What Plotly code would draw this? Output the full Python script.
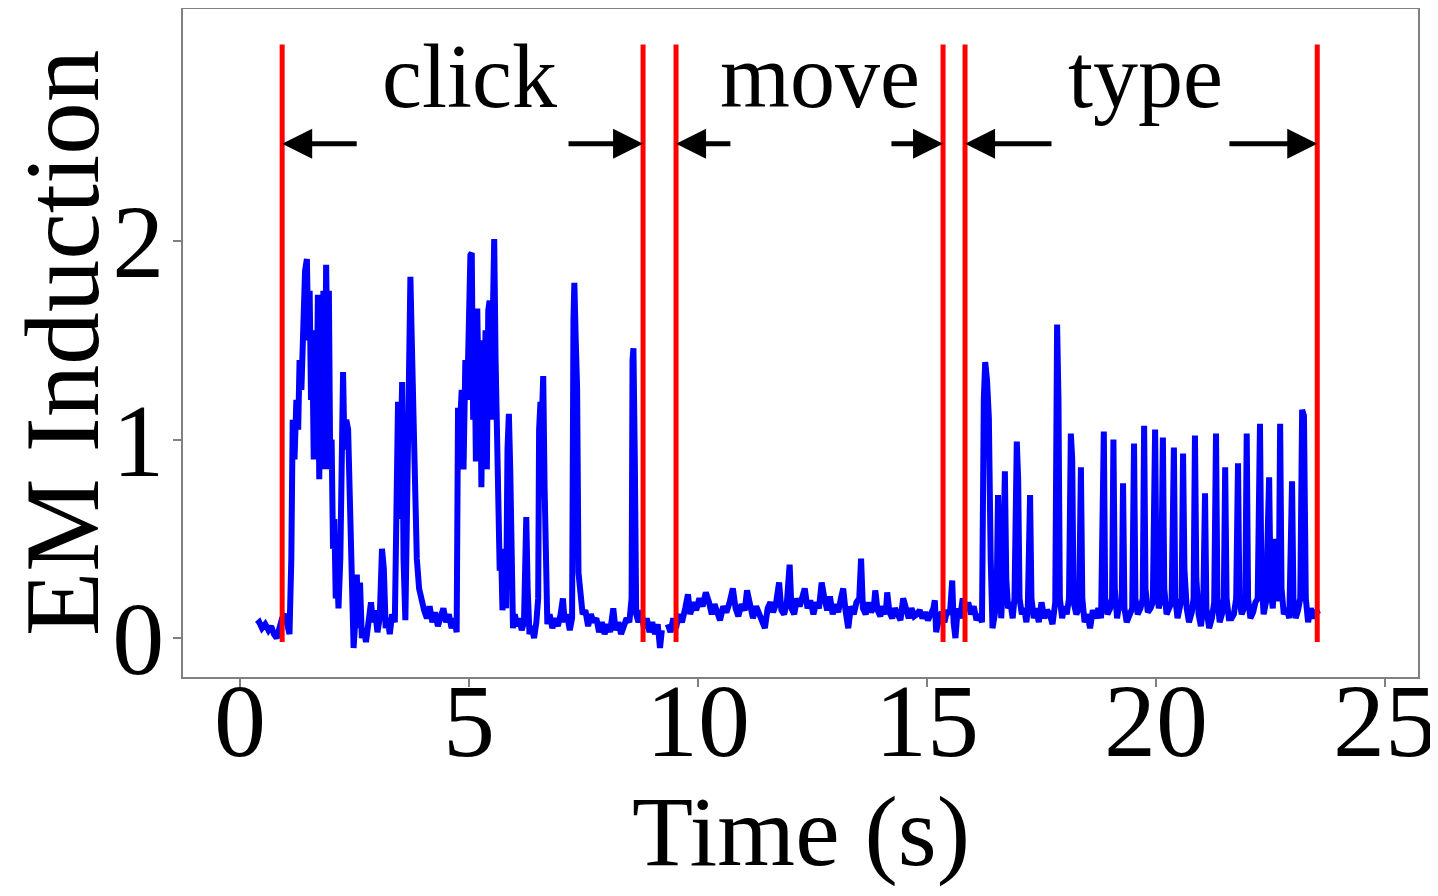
import plotly.graph_objects as go

# ---- data ----
click_t = [0.37, 0.42, 0.48, 0.55, 0.62, 0.68, 0.74, 0.80, 0.86, 0.92, 0.98, 1.03, 1.08, 1.12, 1.15, 1.19, 1.23, 1.27,
           1.30, 1.34, 1.38, 1.42, 1.46, 1.49, 1.52, 1.55, 1.58, 1.61, 1.64, 1.67, 1.70, 1.73, 1.76, 1.79, 1.82, 1.85,
           1.88, 1.91, 1.94, 1.97, 2.00, 2.03, 2.06, 2.09, 2.12, 2.15, 2.19, 2.22, 2.25, 2.28, 2.32, 2.36, 2.40, 2.44,
           2.48, 2.52, 2.55, 2.58, 2.62, 2.66, 2.70, 2.75, 2.80, 2.86, 2.90, 2.95, 3.00, 3.05, 3.10, 3.14, 3.18, 3.22,
           3.27, 3.32, 3.38, 3.42, 3.45, 3.48, 3.51, 3.54, 3.57, 3.61, 3.65, 3.69, 3.72, 3.75, 3.78, 3.82, 3.86, 3.91,
           3.96, 4.02, 4.08, 4.14, 4.20, 4.26, 4.32, 4.38, 4.44, 4.50, 4.56, 4.62, 4.68, 4.73, 4.76, 4.80, 4.84, 4.88,
           4.92, 4.96, 5.00, 5.03, 5.06, 5.09, 5.12, 5.15, 5.18, 5.21, 5.24, 5.27, 5.30, 5.33, 5.36, 5.39, 5.42, 5.45,
           5.48, 5.52, 5.55, 5.58, 5.61, 5.64, 5.67, 5.70, 5.73, 5.77, 5.81, 5.84, 5.87, 5.90, 5.93, 5.96, 6.00, 6.05,
           6.10, 6.15, 6.20, 6.23, 6.25, 6.28, 6.32, 6.37, 6.42, 6.47, 6.51, 6.53, 6.56, 6.59, 6.62, 6.65, 6.68, 6.71,
           6.76, 6.82, 6.88, 6.94, 7.00, 7.05, 7.09, 7.14, 7.20, 7.25, 7.28, 7.30, 7.33, 7.36, 7.39, 7.43, 7.48, 7.54,
           7.60, 7.66, 7.72, 7.78, 7.84, 7.90, 7.96, 8.02, 8.08, 8.15, 8.20, 8.26, 8.32, 8.38, 8.44, 8.50, 8.55, 8.57,
           8.59, 8.62, 8.65, 8.70, 8.76, 8.82, 8.88, 8.94, 9.00, 9.06, 9.12, 9.17, 9.21]
click_v = [0.07, 0.08, 0.05, 0.07, 0.04, 0.06, 0.02, 0.00, 0.05, 0.10, 0.12, 0.06, 0.02, 0.40, 1.10, 0.90, 1.20, 1.05,
           1.40, 1.25, 1.60, 1.85, 1.91, 1.50, 1.75, 1.20, 1.45, 0.90, 1.55, 1.05, 1.73, 0.80, 1.60, 1.10, 1.75, 0.85,
           1.88, 1.40, 1.75, 0.85, 1.00, 0.45, 0.60, 0.20, 0.35, 0.15, 0.40, 1.10, 1.34, 0.95, 1.10, 1.05, 0.60, 0.20,
           -0.05, 0.10, 0.32, 0.05, 0.28, 0.00, 0.05, -0.02, 0.08, 0.18, 0.08, 0.14, 0.03, 0.10, 0.45, 0.35, 0.05, 0.10,
           0.02, 0.12, 0.08, 1.00, 1.19, 0.60, 1.20, 1.29, 0.40, 0.09, 0.70, 1.70, 1.82, 1.50, 1.26, 0.70, 0.40, 0.25,
           0.18, 0.14, 0.10, 0.16, 0.08, 0.13, 0.06, 0.12, 0.15, 0.08, 0.12, 0.05, 0.10, 0.03, 1.16, 1.05, 1.25, 0.85,
           1.40, 1.20, 1.75, 1.93, 1.94, 1.10, 1.55, 0.89, 1.66, 1.20, 1.50, 0.76, 1.30, 0.90, 1.55, 0.85, 1.65, 1.70,
           1.10, 1.90, 2.01, 1.40, 1.09, 0.55, 0.34, 0.45, 0.14, 0.30, 0.15, 0.95, 1.13, 0.85, 0.30, 0.05, 0.12, 0.06,
           0.10, 0.04, 0.08, 0.55, 0.61, 0.25, 0.02, 0.06, 0.00, 0.08, 0.20, 1.05, 1.19, 1.10, 1.32, 0.76, 0.30, 0.07,
           0.12, 0.05, 0.10, 0.06, 0.12, 0.20, 0.08, 0.12, 0.04, 0.10, 1.60, 1.79, 1.50, 1.26, 0.33, 0.20, 0.12, 0.14,
           0.06, 0.12, 0.08, 0.10, 0.03, 0.08, 0.02, 0.07, 0.03, 0.15, 0.04, 0.08, 0.02, 0.06, 0.10, 0.08, 0.20, 1.40,
           1.46, 0.90, 0.12, 0.08, 0.14, 0.05, 0.10, 0.03, 0.08, 0.02, 0.07, -0.05, 0.04]

move_t = [9.34, 9.40, 9.46, 9.52, 9.58, 9.65, 9.72, 9.78, 9.83, 9.90, 9.96, 10.03, 10.10, 10.17, 10.24, 10.30, 10.36,
          10.42, 10.48, 10.55, 10.62, 10.69, 10.76, 10.82, 10.88, 10.95, 11.02, 11.07, 11.13, 11.20, 11.27, 11.34,
          11.40, 11.46, 11.52, 11.58, 11.64, 11.70, 11.77, 11.82, 11.88, 11.94, 12.00, 12.04, 12.10, 12.16, 12.22,
          12.28, 12.33, 12.39, 12.45, 12.52, 12.58, 12.64, 12.70, 12.76, 12.82, 12.88, 12.94, 13.00, 13.06, 13.12,
          13.17, 13.22, 13.28, 13.34, 13.40, 13.46, 13.52, 13.56, 13.60, 13.66, 13.72, 13.78, 13.84, 13.87, 13.92,
          13.98, 14.04, 14.10, 14.13, 14.18, 14.24, 14.30, 14.36, 14.42, 14.48, 14.54, 14.60, 14.66, 14.72, 14.78,
          14.84, 14.90, 14.96, 15.02, 15.08, 15.14, 15.17, 15.20, 15.26, 15.32, 15.38, 15.44, 15.50, 15.55, 15.58,
          15.62, 15.67, 15.72, 15.78, 15.84, 15.90, 15.96, 16.02, 16.08, 16.14, 16.20]
move_v = [0.07, 0.03, 0.10, 0.05, 0.12, 0.08, 0.15, 0.22, 0.12, 0.18, 0.14, 0.20, 0.16, 0.23, 0.18, 0.12, 0.17,
          0.13, 0.09, 0.16, 0.13, 0.18, 0.25, 0.15, 0.11, 0.17, 0.14, 0.24, 0.16, 0.10, 0.16, 0.12,
          0.08, 0.05, 0.15, 0.18, 0.13, 0.17, 0.28, 0.14, 0.12, 0.18, 0.37, 0.15, 0.12, 0.20, 0.16,
          0.22, 0.25, 0.15, 0.19, 0.12, 0.18, 0.15, 0.28, 0.20, 0.14, 0.21, 0.12, 0.17, 0.13, 0.20,
          0.25, 0.14, 0.05, 0.16, 0.12, 0.18, 0.20, 0.40, 0.15, 0.12, 0.18, 0.13, 0.16, 0.24, 0.14,
          0.11, 0.16, 0.12, 0.23, 0.13, 0.10, 0.15, 0.12, 0.09, 0.20, 0.14, 0.10, 0.15, 0.11, 0.12,
          0.14, 0.10, 0.13, 0.09, 0.12, 0.15, 0.19, 0.03, 0.10, 0.13, 0.08, 0.14, 0.12, 0.29, 0.08,
          0.00, 0.15, 0.10, 0.20, 0.14, 0.18, 0.12, 0.16, 0.09, 0.12, 0.08]

type_t = [16.24, 16.27, 16.31, 16.35, 16.39, 16.43, 16.48, 16.52, 16.55, 16.58, 16.62, 16.66, 16.70, 16.73, 16.77,
          16.82, 16.87, 16.91, 16.94, 16.96, 16.99, 17.02, 17.07, 17.12, 17.17, 17.20, 17.25, 17.28, 17.33, 17.38,
          17.44, 17.50, 17.56, 17.62, 17.68, 17.74, 17.80, 17.84, 17.87, 17.90, 17.95, 18.00, 18.05, 18.10, 18.14,
          18.17, 18.20, 18.26, 18.32, 18.36, 18.39, 18.44, 18.50, 18.56, 18.62, 18.68, 18.74, 18.80, 18.86, 18.89,
          18.94, 19.00, 19.04, 19.07, 19.10, 19.15, 19.20, 19.25, 19.28, 19.31, 19.36, 19.42, 19.48, 19.52, 19.55,
          19.60, 19.66, 19.71, 19.74, 19.77, 19.82, 19.88, 19.93, 19.98, 20.01, 20.06, 20.11, 20.15, 20.18, 20.23,
          20.29, 20.34, 20.39, 20.42, 20.47, 20.52, 20.56, 20.59, 20.62, 20.67, 20.72, 20.78, 20.82, 20.85, 20.88,
          20.93, 20.98, 21.03, 21.07, 21.10, 21.16, 21.22, 21.27, 21.31, 21.34, 21.39, 21.45, 21.48, 21.51, 21.54,
          21.59, 21.65, 21.70, 21.75, 21.79, 21.82, 21.87, 21.92, 21.95, 21.98, 22.01, 22.06, 22.12, 22.17, 22.22,
          22.27, 22.30, 22.35, 22.40, 22.47, 22.50, 22.55, 22.60, 22.63, 22.68, 22.71, 22.74, 22.79, 22.85, 22.91,
          22.97, 23.00, 23.05, 23.10, 23.15, 23.19, 23.23, 23.27, 23.32, 23.38, 23.44, 23.50, 23.54]
type_v = [1.20, 1.39, 1.30, 1.11, 0.40, 0.05, 0.12, 0.20, 0.72, 0.30, 0.10, 0.30, 0.84, 0.30, 0.15,
          0.18, 0.10, 0.20, 0.90, 0.99, 0.80, 0.20, 0.12, 0.15, 0.08, 0.15, 0.72, 0.20, 0.10, 0.15,
          0.08, 0.18, 0.10, 0.14, 0.12, 0.07, 0.18, 1.58, 1.20, 0.20, 0.10, 0.16, 0.12, 0.20, 1.03,
          0.90, 0.18, 0.12, 0.15, 0.86, 0.20, 0.08, 0.12, 0.05, 0.14, 0.10, 0.15, 0.10, 1.04, 0.20,
          0.12, 0.15, 0.20, 1.00, 0.25, 0.10, 0.18, 0.14, 0.78, 0.15, 0.08, 0.12, 0.15, 0.98, 0.20,
          0.12, 0.15, 0.20, 1.07, 0.25, 0.13, 0.15, 0.18, 1.05, 0.30, 0.15, 0.20, 1.01, 0.25, 0.12,
          0.16, 0.18, 0.96, 0.20, 0.10, 0.15, 0.20, 0.93, 0.35, 0.15, 0.08, 0.13, 0.20, 1.02, 0.30,
          0.12, 0.06, 0.15, 0.73, 0.15, 0.05, 0.10, 0.18, 1.03, 0.20, 0.08, 0.13, 0.20, 0.86, 0.20,
          0.10, 0.10, 0.12, 0.20, 0.88, 0.20, 0.12, 0.15, 0.20, 1.03, 0.20, 0.10, 0.13, 0.18, 0.20,
          1.08, 0.30, 0.12, 0.18, 0.81, 0.25, 0.15, 0.50, 0.20, 0.20, 1.08, 0.25, 0.12, 0.15, 0.10,
          0.79, 0.20, 0.10, 0.14, 0.20, 1.15, 1.12, 0.20, 0.08, 0.15, 0.10, 0.14, 0.12]

boundary_t = [0.92, 8.80, 9.52, 15.35, 15.83, 23.52]
segment_labels = ["click", "move", "type"]
label_t = [5.02, 12.66, 19.76]
arrow_tail_t = [2.58, 7.14, 10.74, 14.19, 17.75, 21.57]
arrow_y = 2.49
label_y = 2.83
boundary_y = [-0.02, 2.99]

x_ticks = [0, 5, 10, 15, 20, 25]
y_ticks = [0, 1, 2]
x_title = "Time (s)"
y_title = "EM Induction"

# ---- figure ----
time_s = click_t + [None] + move_t + type_t
em_value = click_v + [None] + move_v + type_v

FONT = "Liberation Serif, Times New Roman, serif"

fig = go.Figure()
fig.add_trace(go.Scatter(x=time_s, y=em_value, mode="lines",
                         line=dict(color="#0000ff", width=6), connectgaps=False,
                         showlegend=False, hoverinfo="skip"))

for bt in boundary_t:
    fig.add_shape(type="line", xref="x", yref="y", x0=bt, x1=bt,
                  y0=boundary_y[0], y1=boundary_y[1],
                  line=dict(color="#ff0000", width=5), layer="above")

for i, tail in enumerate(arrow_tail_t):
    head = boundary_t[i]
    fig.add_annotation(x=head, y=arrow_y, ax=tail, ay=arrow_y, xref="x", yref="y",
                       axref="x", ayref="y", text="", showarrow=True,
                       arrowhead=2, arrowsize=1.2, arrowwidth=5, arrowcolor="black",
                       standoff=0, startstandoff=0)

for lbl, lt in zip(segment_labels, label_t):
    fig.add_annotation(x=lt, y=label_y, xref="x", yref="y", text=lbl, showarrow=False,
                       font=dict(family=FONT, size=90, color="black"),
                       xanchor="center", yanchor="middle")

# axis titles placed as text annotations (paper coordinates)
fig.add_annotation(x=0.5, y=0, xref="paper", yref="paper", xanchor="center", yanchor="top",
                   yshift=-97, text=x_title, showarrow=False,
                   font=dict(family=FONT, size=100, color="black"))
fig.add_annotation(x=0, y=0.5, xref="paper", yref="paper", xanchor="center", yanchor="middle",
                   xshift=-121, text=y_title, showarrow=False, textangle=-90,
                   font=dict(family=FONT, size=105, color="black"))

axis_common = dict(showline=True, linecolor="#808080", linewidth=2, mirror=True,
                   ticks="outside", ticklen=8, tickcolor="#808080", tickwidth=2,
                   showgrid=False, zeroline=False, automargin=False,
                   ticklabeloverflow="allow",
                   tickfont=dict(family=FONT, size=104, color="black"))

fig.update_xaxes(range=[-1.245, 25.72], tickvals=x_ticks, ticklabelstandoff=-56, **axis_common)
fig.update_yaxes(range=[-0.196, 3.169], tickvals=y_ticks, ticklabelstandoff=-12, **axis_common)

# the page body adds an 8 px offset, so the figure is sized/margined to compensate
fig.update_layout(width=1430, height=888, margin=dict(l=175, r=20, t=1, b=219),
                  plot_bgcolor="white", paper_bgcolor="white",
                  font=dict(family=FONT, color="black"))

fig.write_html("out.html")
